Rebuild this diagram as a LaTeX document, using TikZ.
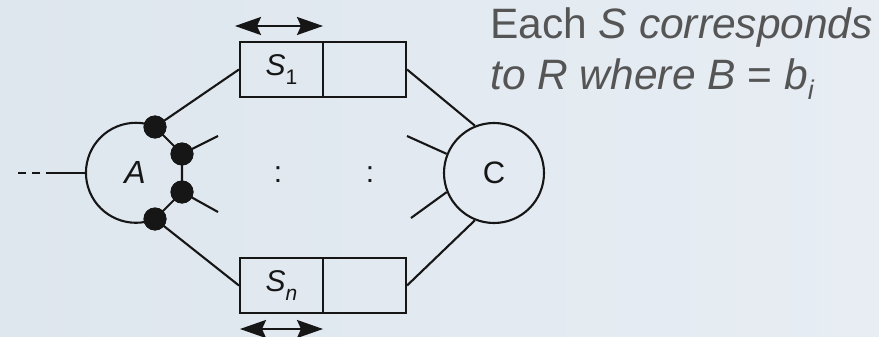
\documentclass[tikz,border=0pt]{standalone}
\usepackage{fontspec}
\setmainfont{Liberation Sans}
\usetikzlibrary{arrows.meta}
\definecolor{bgl}{RGB}{222,230,238}
\definecolor{bgr}{RGB}{231,237,243}
\definecolor{ink}{RGB}{22,22,22}
\definecolor{cap}{RGB}{85,85,85}
\begin{document}
\begin{tikzpicture}[x=1pt,y=-1pt,
  ln/.style={draw=ink,line width=2.1pt},
  dotnode/.style={circle,fill=ink,inner sep=0pt,minimum size=23pt},
  cell/.style={draw=ink,line width=2.1pt,minimum width=83pt,minimum height=55pt,inner sep=0pt},
  lbl/.style={text=ink,font=\fontsize{30}{32}\selectfont},
  captxt/.style={text=cap,anchor=base west,inner sep=0pt,font=\fontsize{42.5}{48}\selectfont},
  tip/.style={Stealth[length=26pt 0,width=18pt 0,inset=4pt 0]},
  dbl/.style={ln,{Stealth[length=26pt 0,width=18pt 0,inset=4pt 0]}-{Stealth[length=26pt 0,width=18pt 0,inset=4pt 0]}}]
\shade[left color=bgl,right color=bgr] (0,0) rectangle (879,337);
\useasboundingbox (0,0) rectangle (879,337);
% A node
\coordinate (Ac) at (136,173);
\node[dotnode] (d1) at (155,127) {};
\node[dotnode] (d2) at (182,154) {};
\node[dotnode] (d3) at (182,192) {};
\node[dotnode] (d4) at (155,219) {};
\draw[ln] (d4.center) arc[start angle=67.6,end angle=292.4,radius=50];
\draw[ln] (d1.center) -- (d2.center) -- (d3.center) -- (d4.center);
\node[dotnode] at (d1) {};
\node[dotnode] at (d2) {};
\node[dotnode] at (d3) {};
\node[dotnode] at (d4) {};
\node[text=ink,font=\fontsize{32}{34}\selectfont] (A) at (135,172) {\itshape A};
\coordinate (Aw) at (86,173);
\coordinate (inmid) at (50,173);
\coordinate (instart) at (18,173);
\draw[ln,dash pattern=on 8pt off 6pt] (instart) -- (inmid);
\draw[ln] (inmid) -- (Aw);
\coordinate (a2) at (218,136);
\coordinate (a3) at (218,212);
\draw[ln] (d2.center) -- (a2);
\draw[ln] (d3.center) -- (a3);
% boxes
\node[cell,lbl] (S1) at (281.5,69.5) {\itshape S\raisebox{-0.3em}{\upshape\fontsize{21}{21}\selectfont 1}};
\node[cell] (S1r) at (364.5,69.5) {};
\node[cell,lbl] (Sn) at (281.5,285.5) {\itshape S\raisebox{-0.3em}{\fontsize{21}{21}\selectfont n}};
\node[cell] (Snr) at (364.5,285.5) {};
\coordinate (t1) at (235,26);
\coordinate (t2) at (323,26);
\coordinate (b1) at (240,329);
\coordinate (b2) at (323,329);
\draw[dbl] (t1) -- (t2);
\draw[dbl] (b1) -- (b2);
% C node
\node[circle,draw=ink,line width=2.1pt,minimum size=100pt,inner sep=0pt,text=ink,font=\fontsize{31}{33}\selectfont] (C) at (494,173) {C};
\draw[ln] (d1.center) -- (S1.west);
\draw[ln] (d4.center) -- (Sn.west);
\draw[ln] (S1r.east) -- (C.112);
\draw[ln] (Snr.east) -- (C.248);
\coordinate (c2) at (407,136);
\coordinate (c3) at (411,218);
\draw[ln] (c2) -- (C.158);
\draw[ln] (c3) -- (C.202);
% dots
\node[lbl] (v1) at (278,175) {:};
\node[lbl] (v2) at (370,175) {:};
% caption
\node[captxt] (l1) at (490,39) {Each \textit{S corresponds}};
\node[captxt] (l2) at (490,89) {\textit{to R where B} = \textit{b}\raisebox{-0.25em}{\fontsize{27}{27}\selectfont\textit{i}}};
\end{tikzpicture}
\end{document}
